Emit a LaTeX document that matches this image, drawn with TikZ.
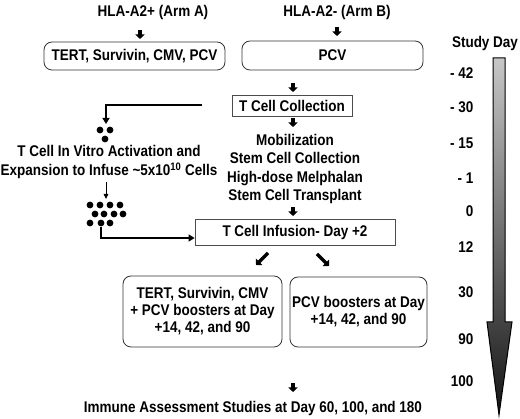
\documentclass[tikz,border=0pt]{standalone}
\usepackage{fontspec}
\setmainfont{Liberation Sans}[FakeStretch=0.87]
\usetikzlibrary{arrows.meta,positioning}

\begin{document}
\begin{tikzpicture}[x=1pt, y=-1pt,
    font=\fontsize{15.5}{18.6}\selectfont\bfseries,
    rbox/.style={draw=black!80, line width=0.8pt, rounded corners=8pt, align=center,
      inner sep=0pt, font=\fontsize{15.5}{17}\selectfont\bfseries},
    sbox/.style={draw=black!70, line width=0.8pt, align=center, inner sep=0pt},
    stub/.style={line width=3.5pt, -{Triangle[width=9pt,length=4.5pt]}},
    link/.style={line width=1.7pt, -{Triangle[width=7pt,length=6pt]}},
    thinlink/.style={line width=0.9pt, -{Triangle[width=4.5pt,length=5pt]}},
    cell/.style={circle, fill=black, inner sep=0pt, minimum size=6.8pt}]
\useasboundingbox (0,0) rectangle (520,419);

% arms and vaccines
\node (armA) at (153,12) {HLA-A2+ (Arm A)};
\node (armB) at (337,12) {HLA-A2- (Arm B)};
\node[rbox, minimum width=181pt, minimum height=28pt] (vacA) at (134.5,56) {TERT, Survivin, CMV, PCV};
\node[rbox, minimum width=181pt, minimum height=29pt] (vacB) at (332.5,55.5) {PCV};

% collection and transplant
\node[sbox, minimum width=120pt, minimum height=21pt] (tcoll) at (292,106) {T Cell Collection};
\node[align=center] (prep) at (295,169) {Mobilization\\Stem Cell Collection\\High-dose Melphalan\\Stem Cell Transplant};
\node[sbox, minimum width=200pt, minimum height=26pt] (infuse) at (295,232) {T Cell Infusion- Day +2};

% boosters
\node[rbox, minimum width=159pt, minimum height=71pt] (boostA) at (202.5,311.5) {TERT, Survivin, CMV\\+ PCV boosters at Day\\+14, 42, and 90};
\node[rbox, minimum width=137pt, minimum height=70pt] (boostB) at (358.5,312) {PCV boosters at Day\\+14, 42, and 90};
\node (assay) at (253,408) {Immune Assessment Studies at Day 60, 100, and 180};

% in vitro expansion
\node[align=center] (expand) at (109,162) {T Cell In Vitro Activation and\\Expansion to Infuse \textasciitilde5x10\textsuperscript{10} Cells};
\foreach \n/\x/\y in {1/100/130, 2/110/130, 3/105/139}
  \node[cell] (seed\n) at (\x,\y) {};
\foreach \n/\x/\y in {1/90/205, 2/100/205, 3/110/205, 4/120/205,
                      5/95/214, 6/104/214, 7/114/214, 8/123/214,
                      9/90/223, 10/101/223, 11/110/223}
  \node[cell] (grown\n) at (\x,\y) {};

% short arrows
\coordinate (sA) at (140,30);
\coordinate (sB) at (337,27);
\coordinate (sC) at (293,83);
\coordinate (sD) at (293,118);
\coordinate (sE) at (293,207);
\coordinate (sF) at (293,383);
\foreach \s in {sA,sB,sC,sD,sE,sF}
  \draw[stub] (\s) -- ++(0,9);
\coordinate (dL) at (268,253);
\coordinate (dR) at (317,254);
\draw[stub] (dL) -- ++(-12,12);
\draw[stub] (dR) -- ++(12,12);

% cell flow
\coordinate (tap) at (202,105);
\coordinate (seedin) at (106,124);
\coordinate (grownin) at (106,199);
\draw[link] (tap) -| (seedin);
\draw[thinlink] (expand.south -| grownin) -- (grownin);
\draw[link] (grown10.south) |- ([yshift=-6pt]infuse.west);

% study day scale
\node (studyday) at (485,43) {Study Day};
\foreach \d/\y in {- 42/73, - 30/107, - 15/143, - 1/178, 0/211, 12/247, 30/292, 90/339, 100/381}
  \node[anchor=east] (day\y) at (477,\y) {\d};
\draw[line width=1pt, top color=black!22, bottom color=black!92]
  (493,58) -- (505,58) -- (505,322) -- (512,322) -- (499,415) -- (487,322) -- (493,322) -- cycle;
\end{tikzpicture}
\end{document}
